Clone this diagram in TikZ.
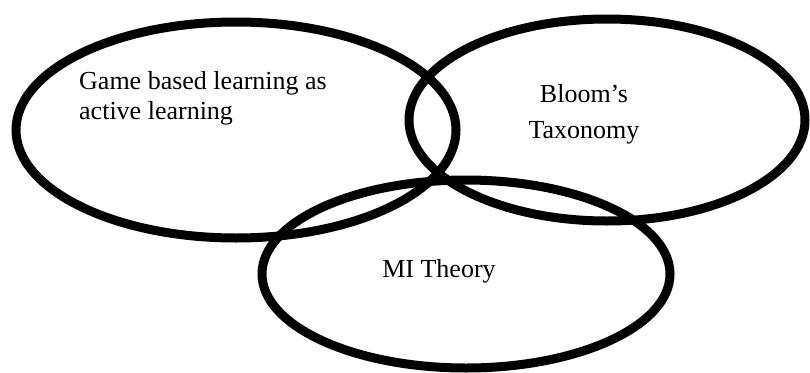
\documentclass[tikz,border=0pt]{standalone}
\usepackage{fontspec}
\setmainfont{Liberation Serif}
\usepackage{tikz}
\usetikzlibrary{shapes.geometric,positioning}

\begin{document}
\begin{tikzpicture}[
    x=1pt, y=-1pt,
    ring/.style={ellipse, draw=black, line width=9pt, inner sep=0pt},
    lbl/.style={inner sep=0pt, font=\fontsize{26}{30}\selectfont}
]
    \useasboundingbox (0,0) rectangle (810,372);

    % Ellipses
    \node[ring, minimum width=440pt, minimum height=216pt] (game) at (236,130) {};
    \node[ring, minimum width=396pt, minimum height=202pt] (bloom) at (607,120) {};
    \node[ring, minimum width=408pt, minimum height=188pt] (mi) at (466,274) {};

    % Labels
    \node[lbl, align=left, anchor=north west] (gametext) at (79,71) {Game based learning as\\active learning};
    \node[lbl, align=center, anchor=north, font=\fontsize{26}{36}\selectfont] (bloomtext) at (584,84) {Bloom’s\\Taxonomy};
    \node[lbl, anchor=base] (mitext) at (439,277) {MI Theory};
\end{tikzpicture}
\end{document}
